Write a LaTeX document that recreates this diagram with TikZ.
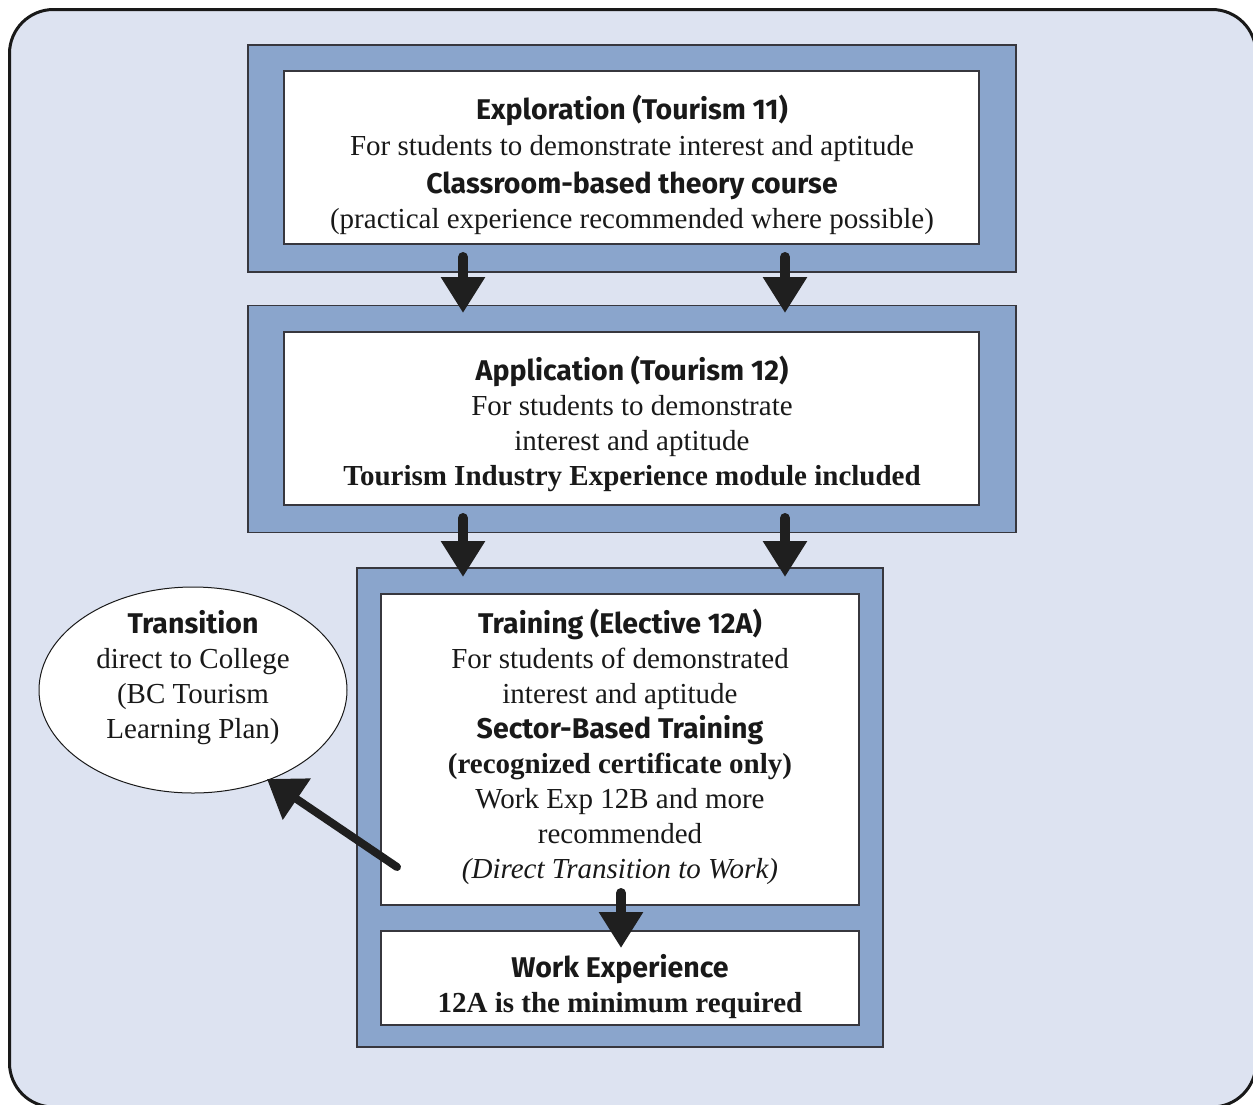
\documentclass[tikz,border=0pt]{standalone}
\usepackage{fontspec}
\setmainfont{Liberation Serif}
\newfontfamily\hsans{Fira Sans}
\usetikzlibrary{arrows.meta,shapes.geometric}
\definecolor{bgblue}{RGB}{221,227,241}
\definecolor{frameblue}{RGB}{138,165,204}
\definecolor{edge}{RGB}{55,55,62}
\newcommand{\hd}[1]{{\hsans\bfseries\fontsize{28.5}{35}\selectfont #1}}
\tikzset{
  framebox/.style={draw=edge, line width=1.6pt, fill=frameblue, inner sep=0pt},
  whitebox/.style={draw=edge, line width=1.6pt, fill=white, inner sep=0pt},
  txt/.style={align=center, inner sep=0pt, font=\fontsize{29}{35}\selectfont, text=black!90},
  downarrow/.style={line width=10pt, line cap=round, black!88, -{Triangle[width=42pt,length=36pt]}},
  diagarrow/.style={line width=8pt, line cap=round, black!88, -{Triangle[width=48pt,length=36pt]}}
}
\begin{document}
\begin{tikzpicture}[x=1pt,y=-1pt]
\useasboundingbox (0,0) rectangle (1253,1104);
\fill[white] (0,0) rectangle (1253,1104);
\draw[line width=3pt, draw=black!90, fill=bgblue, rounded corners=44pt] (9.5,9.5) rectangle (1256,1107);

% frames
\node[framebox, minimum width=768pt, minimum height=227pt] (f1) at (632,158.5) {};
\node[whitebox, minimum width=695pt, minimum height=173pt] (w1) at (631.5,157.5) {};
\node[framebox, minimum width=768pt, minimum height=227pt] (f2) at (632,419) {};
\node[whitebox, minimum width=695pt, minimum height=173pt] (w2) at (631.5,418.5) {};
\node[framebox, minimum width=526pt, minimum height=479pt] (f3) at (620,807.5) {};
\node[whitebox, minimum width=478pt, minimum height=311pt] (w3) at (620,749.5) {};
\node[whitebox, minimum width=478pt, minimum height=94pt] (w4) at (620,978) {};

% ellipse
\node[ellipse, draw=black!90, line width=1pt, fill=white, minimum width=308pt, minimum height=206pt] (el) at (193,690) {};

% texts
\node[txt] (t1) at (632,165) {\hd{Exploration (Tourism 11)}\\[1pt]
For students to demonstrate interest and aptitude\\[3pt]
\hd{Classroom-based theory course}\\
(practical experience recommended where possible)};
\node[txt] (t2) at (632,424) {\hd{Application (Tourism 12)}\\
For students to demonstrate\\
interest and aptitude\\
\textbf{Tourism Industry Experience module included}};
\node[txt] (t3) at (620,747) {\hd{Training (Elective 12A)}\\
For students of demonstrated\\
interest and aptitude\\
\hd{Sector-Based Training}\\
\textbf{(recognized certificate only)}\\
Work Exp 12B and more\\
recommended\\
\textit{(Direct Transition to Work)}};
\node[txt] (t4) at (620,986.5) {\hd{Work Experience}\\
\textbf{12A is the minimum required}};
\node[txt] (t5) at (193,677.5) {\hd{Transition}\\
direct to College\\
(BC Tourism\\
Learning Plan)};

% arrow ends
\coordinate (a1s) at (463,257); \coordinate (a1e) at (463,313);
\coordinate (a2s) at (785,257); \coordinate (a2e) at (785,313);
\coordinate (a3s) at (463,518); \coordinate (a3e) at (463,577);
\coordinate (a4s) at (785,518); \coordinate (a4e) at (785,577);
\coordinate (a5s) at (621,893); \coordinate (a5e) at (621,948);
\coordinate (d1s) at (397,867); \coordinate (d1e) at (267,779);

\draw[downarrow] (a1s) -- (a1e);
\draw[downarrow] (a2s) -- (a2e);
\draw[downarrow] (a3s) -- (a3e);
\draw[downarrow] (a4s) -- (a4e);
\draw[downarrow] (a5s) -- (a5e);
\draw[diagarrow] (d1s) -- (d1e);
\end{tikzpicture}
\end{document}
